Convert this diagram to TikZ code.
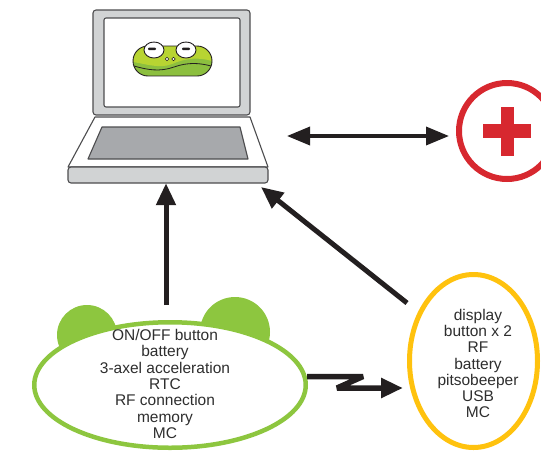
\documentclass[tikz,border=0pt]{standalone}
\usepackage{fontspec}
\setmainfont{Liberation Sans}
\usetikzlibrary{arrows.meta,shapes.geometric}

\definecolor{frameGray}{HTML}{D1D3D4}
\definecolor{edgeGray}{HTML}{4D4D4F}
\definecolor{padGray}{HTML}{A7A9AC}
\definecolor{greenLine}{HTML}{8DC63F}
\definecolor{yellowLine}{HTML}{FFC20E}
\definecolor{redMark}{HTML}{D7282F}
\definecolor{arrowBlack}{HTML}{231F20}
\definecolor{textGray}{HTML}{2E2E2E}
\definecolor{frogLight}{HTML}{B8D432}
\definecolor{frogDark}{HTML}{8CBF3F}

\tikzset{
  laptopline/.style={draw=edgeGray, line width=1.1pt, line join=round},
  fatarrow/.style={draw=arrowBlack, line width=5pt, -{Triangle[length=22pt,width=19pt]}},
  linkarrow/.style={draw=arrowBlack, line width=3.5pt, {Triangle[length=23pt,width=18pt]}-{Triangle[length=23pt,width=18pt]}},
  partlist/.style={align=center, text=textGray, inner sep=0pt,
    font=\fontsize{15.5pt}{16.3pt}\selectfont},
}

\begin{document}
\begin{tikzpicture}[x=1pt,y=-1pt]
\useasboundingbox (0,0) rectangle (541,451);

% ---------- laptop ----------
\draw[laptopline, fill=frameGray, rounded corners=3pt] (93,10) rectangle (250,115);
\draw[laptopline, fill=white, rounded corners=2pt] (104,18) rectangle (240,107);
\draw[laptopline, fill=white] (95,117) -- (250,117) -- (268,167) -- (68,167) -- cycle;
\draw[laptopline, fill=padGray] (102,127) -- (240,127) -- (248,159) -- (88,159) -- cycle;
\draw[laptopline, fill=frameGray, rounded corners=3pt] (68,167) rectangle (268,183);
\node[inner sep=0pt, minimum width=200pt, minimum height=173pt] (laptop) at (168,96.5) {};

% frog on the screen
\begin{scope}
  \clip[rounded corners=15pt] (133,46) rectangle (212,76);
  \fill[frogDark] (133,46) rectangle (212,76);
  \fill[frogLight] (133,46) -- (212,46) -- (212,61)
    .. controls (198,57) and (186,58) .. (172,64)
    .. controls (160,69) and (146,64) .. (133,62) -- cycle;
\end{scope}
\draw[arrowBlack, line width=0.9pt, rounded corners=15pt] (133,46) rectangle (212,76);
\draw[arrowBlack, line width=0.8pt] (134,66)
  .. controls (148,70) and (160,72) .. (174,67)
  .. controls (188,62) and (200,63) .. (211,66);
\draw[arrowBlack, line width=0.9pt, fill=white] (154,50) ellipse (10 and 8);
\draw[arrowBlack, line width=0.9pt, fill=white] (186,50) ellipse (10 and 8);
\fill[arrowBlack, rounded corners=1pt] (148,47.5) rectangle (156,50);
\fill[arrowBlack, rounded corners=1pt] (182,47.5) rectangle (190,50);
\draw[arrowBlack, line width=0.6pt, fill=white] (167,59) circle (1.7);
\draw[arrowBlack, line width=0.6pt, fill=white] (173.5,59) circle (1.7);

% ---------- red cross ----------
\node[circle, draw=redMark, line width=6pt, minimum size=96pt, inner sep=0pt] (cross) at (507,131) {};
\fill[redMark] (500.5,107) rectangle (513.5,156);
\fill[redMark] (483,124) rectangle (531,138);

% ---------- sensor unit ----------
\fill[greenLine] (87,335) circle (30);
\fill[greenLine] (235,332) circle (35);
\node[ellipse, draw=greenLine, fill=white, line width=4.5pt, inner sep=0pt,
      minimum width=271.5pt, minimum height=125.5pt] (sensor) at (170,385) {};
\node[partlist] (sensorParts) at (165,384)
  {ON/OFF button\\battery\\3-axel acceleration\\RTC\\RF connection\\memory\\MC};

% ---------- display unit ----------
\node[ellipse, draw=yellowLine, fill=white, line width=5pt, inner sep=0pt,
      minimum width=128pt, minimum height=173pt] (display) at (473.5,361) {};
\node[partlist] (displayParts) at (478,363.5)
  {display\\button x 2\\RF\\battery\\pitsobeeper\\USB\\MC};

% ---------- connectors ----------
\coordinate (upTail) at (166,305);
\draw[fatarrow] (upTail) -- (upTail |- laptop.south);

\coordinate (diagTail) at (407,303);
\coordinate (diagTip) at (261,187);
\draw[fatarrow] (diagTail) -- (diagTip);

\coordinate (linkL) at (287,136);
\coordinate (linkR) at (449,136);
\draw[linkarrow] (linkL) -- (linkR);

\coordinate (zapStart) at (307,376.5);
\coordinate (zapEnd) at (403,388);
\draw[fatarrow, line width=5.5pt, line join=bevel]
  (zapStart) -- (363,376.5) -- (337,388) -- (zapEnd);
\end{tikzpicture}
\end{document}
